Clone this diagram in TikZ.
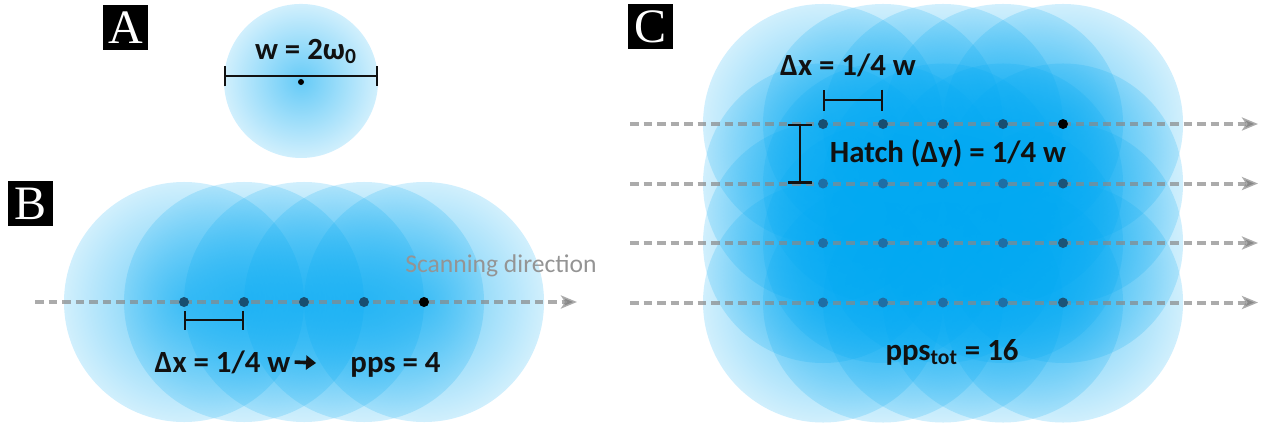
\documentclass[tikz,border=0pt]{standalone}
\usepackage{fontspec}
\setmainfont{Carlito}
\newfontfamily\labfont{Liberation Serif}
\usetikzlibrary{arrows.meta,fadings}
\pgfdeclareradialshading{spotfadeshade}{\pgfpointorigin}{color(0bp)=(transparent!40); color(25bp)=(transparent!82); color(50bp)=(transparent!100)}
\pgfdeclarefading{spotfade}{\pgfuseshading{spotfadeshade}}
\definecolor{spotblue}{RGB}{0,168,242}
\definecolor{dotdark}{RGB}{24,78,112}
\definecolor{dotmid}{RGB}{30,110,165}
\definecolor{dotcol}{RGB}{27,84,120}
\definecolor{scangray}{RGB}{136,136,136}
\definecolor{scantext}{RGB}{148,148,148}
\definecolor{ink}{RGB}{17,17,17}
\tikzset{
  spot/.style={fill=spotblue, path fading=spotfade},
  spotdot/.style={circle, inner sep=0pt, minimum size=5pt, fill=#1},
  scanline/.style={draw=scangray, draw opacity=0.7, line width=2pt,
    dash pattern=on 4.25pt off 2.5pt,
    -{Stealth[length=8pt,width=6.5pt,inset=2pt]}},
  measure/.style={draw=ink, line width=1.2pt, {Bar[width=#1]}-{Bar[width=#1]}},
  lab/.style={fill=black, text=white, minimum size=22.5pt, inner sep=0pt,
    font=\labfont\fontsize{24}{24}\selectfont},
  txt/.style={text=ink, font=\bfseries\fontsize{15.4}{18}\selectfont, inner sep=0pt, anchor=base},
  scantxt/.style={text=scantext, font=\fontsize{12.8}{15}\selectfont, inner sep=0pt, anchor=base},
  ptr/.style={draw=ink, line width=1.8pt, -{Triangle[length=5pt,width=7pt]}}
}
\begin{document}
\begin{tikzpicture}[x=0.5pt,y=-0.5pt]
\useasboundingbox (0,0) rectangle (1263,424);

% ---------- Panel A ----------
\fill[spot] (301,81) circle[radius=38.5pt];
\node[spotdot=black, minimum size=3pt] (a0) at (301,82) {};
\coordinate (aL) at (224,76);
\coordinate (aR) at (378,76);
\draw[measure=10pt] (aL) -- (aR);
\node[txt] (aw) at (306,59.5) {w = 2ω\textsubscript{0}};
\node[lab] (la) at (125.5,27.5) {A};

% ---------- Panel B ----------
\foreach \i in {0,...,4} \fill[spot] ({184+60*\i},302) circle[radius=60pt];
\coordinate (bs) at (35,302);
\coordinate (be) at (577,302);
\draw[scanline] (bs) -- (be);
\foreach \i/\c in {0/dotdark,1/dotdark,2/dotdark,3/dotdark,4/black}
  \node[spotdot=\c] (b\i) at ({184+60*\i},302) {};
\coordinate (bm1) at (184,320);
\coordinate (bm2) at (244,320);
\draw[measure=9.5pt] (bm1) -- (bm2);
\node[txt] (bdx) at (222.5,372) {Δx = 1/4 w};
\node[txt] (bpps) at (395.5,372) {pps = 4};
\draw[ptr, shorten <=2pt, shorten >=17pt] (bdx.east) -- (bpps.west);
\node[scantxt] (scan) at (501,272) {Scanning direction};
\node[lab] (lb) at (30.5,203.5) {B};

% ---------- Panel C ----------
\foreach \j in {0,...,3}
  \foreach \i in {0,...,4}
    \fill[spot] ({823+60*\i},{124+59.5*\j}) circle[radius=60pt];
\foreach \j in {0,...,3} {
  \coordinate (cs\j) at (630,{124+59.5*\j});
  \coordinate (ce\j) at (1258,{124+59.5*\j});
  \draw[scanline] (cs\j) -- (ce\j);
}
\foreach \i/\c in {0/dotdark,1/dotdark,2/dotdark,3/dotdark,4/black}
  \node[spotdot=\c] (c\i0) at ({823+60*\i},124) {};
\foreach \j in {1,2,3} {
  \foreach \i in {0,...,3}
    \node[spotdot=dotmid] (c\i\j) at ({823+60*\i},{124+59.5*\j}) {};
  \node[spotdot=dotcol] (c4\j) at (1063,{124+59.5*\j}) {};
}
\coordinate (cm1) at (823,100);
\coordinate (cm2) at (883,100);
\draw[measure=10.5pt] (cm1) -- (cm2);
\coordinate (cv1) at (800,124);
\coordinate (cv2) at (800,183.5);
\draw[measure=12pt] (cv1) -- (cv2);
\node[txt] (cdx) at (848,75) {Δx = 1/4 w};
\node[txt] (chatch) at (948,162) {Hatch (Δy) = 1/4 w};
\node[txt] (cpps) at (952,360) {pps\textsubscript{tot} = 16};
\node[lab] (lc) at (650.5,26.5) {C};
\end{tikzpicture}
\end{document}
